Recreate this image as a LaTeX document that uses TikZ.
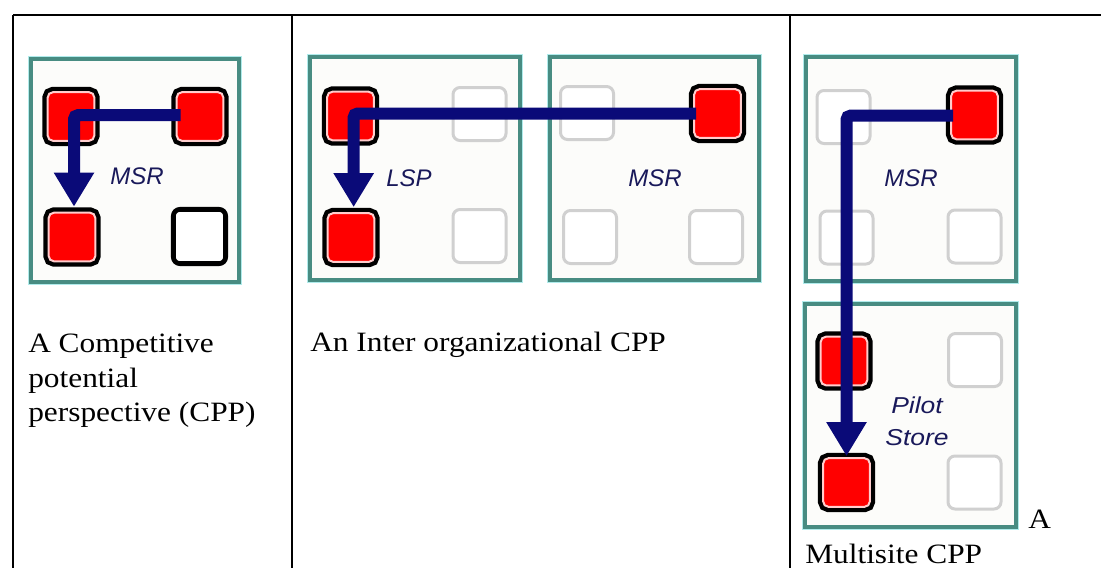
\documentclass[tikz,border=0pt]{standalone}
\usepackage{fontspec}
\usetikzlibrary{arrows.meta}
\newfontfamily\tnr[FakeStretch=1.12]{Liberation Serif}
\newfontfamily\arlab{Liberation Sans}
\newfontfamily\arpil[FakeStretch=1.15]{Liberation Sans}
\definecolor{tealc}{RGB}{72,140,130}
\definecolor{halo}{RGB}{175,235,235}
\definecolor{boxfill}{RGB}{252,252,250}
\definecolor{navyc}{RGB}{10,10,120}
\definecolor{labc}{RGB}{25,25,90}
\definecolor{pinkc}{RGB}{255,205,205}
\definecolor{greyc}{RGB}{208,208,208}
\tikzset{
  tealbox/.style={draw=tealc, line width=3pt, fill=boxfill, inner sep=0pt, outer sep=0pt,
    preaction={draw=halo, line width=4.5pt}},
  redsq/.style={rectangle, rounded corners=4pt, fill=red, draw=pinkc, line width=1.5pt,
    minimum width=35pt, minimum height=36.5pt, inner sep=0pt, outer sep=0pt,
    preaction={draw=black, line width=8pt}},
  greysq/.style={rectangle, rounded corners=5.25pt, fill=white, draw=greyc, line width=2.25pt,
    minimum width=39.75pt, minimum height=39.75pt, inner sep=0pt, outer sep=0pt},
  blacksq/.style={rectangle, rounded corners=5pt, fill=white, draw=black, line width=3.6pt,
    minimum width=39.2pt, minimum height=40.7pt, inner sep=0pt, outer sep=0pt},
  flow/.style={draw=navyc, line width=9pt, rounded corners=3pt,
    -{Triangle[width=28.5pt, length=25.5pt]}},
  lab/.style={text=labc, font=\arlab\itshape\fontsize{18pt}{20pt}\selectfont, inner sep=0pt, anchor=base},
  pil/.style={text=labc, font=\arpil\itshape\fontsize{17.25pt}{20pt}\selectfont, inner sep=0pt, anchor=base},
  captext/.style={font=\tnr\fontsize{21pt}{26.25pt}\selectfont, inner sep=0pt, anchor=base west},
  tablerule/.style={line width=2pt}
}
\begin{document}
\begin{tikzpicture}[x=0.75pt, y=-0.75pt]
\useasboundingbox (0,0) rectangle (1101,568);
\fill[white] (0,0) rectangle (1101,568);
% table rules
\draw[tablerule] (13,15) -- (1101,15);
\draw[tablerule] (13,15) -- (13,568);
\draw[tablerule] (292,15) -- (292,568);
\draw[tablerule] (790,15) -- (790,568);
% teal boxes
\node[tealbox, minimum width=156pt, minimum height=167.25pt] (b1) at (135,170.5) {};
\node[tealbox, minimum width=157.5pt, minimum height=167.25pt] (b2l) at (415,168.5) {};
\node[tealbox, minimum width=156.75pt, minimum height=167.25pt] (b2r) at (654.5,168.5) {};
\node[tealbox, minimum width=157.5pt, minimum height=168pt] (b3t) at (911,169) {};
\node[tealbox, minimum width=158.25pt, minimum height=167.25pt] (b3b) at (910.5,415.5) {};
% panel 1 squares
\node[redsq] (p1tl) at (71,116.5) {};
\node[redsq] (p1tr) at (200,116.5) {};
\node[redsq] (p1bl) at (72,237) {};
\node[blacksq] (p1br) at (199.5,236.5) {};
% panel 2 squares
\node[redsq] (p2tl) at (350.5,116) {};
\node[redsq] (p2bl) at (351,237.5) {};
\node[greysq] (p2tr) at (479.5,114) {};
\node[greysq] (p2br) at (479.5,236) {};
\node[greysq] (q2tl) at (587,113) {};
\node[redsq] (q2tr) at (717.5,113.5) {};
\node[greysq] (q2bl) at (590,237) {};
\node[greysq] (q2br) at (716,237) {};
% panel 3 squares
\node[greysq] (p3tl) at (843.5,117) {};
\node[redsq] (p3tr) at (974.5,115) {};
\node[greysq] (p3bl) at (846.5,237.5) {};
\node[greysq] (p3br) at (974.5,236.5) {};
\node[redsq] (s3tl) at (844,361) {};
\node[greysq] (s3tr) at (975,360) {};
\node[redsq] (s3bl) at (846.5,482.5) {};
\node[greysq] (s3br) at (974.5,482.5) {};
% arrows
\draw[flow] ([xshift=3pt,yshift=1pt]p1tr.west) -| ([xshift=1.5pt,yshift=4.5pt]p1bl.north);
\draw[flow] ([xshift=1.5pt]q2tr.west) -| ([xshift=2pt,yshift=4.5pt]p2bl.north);
\draw[flow] ([xshift=1.5pt,yshift=-0.5pt]p3tr.west) -| ([yshift=1.5pt]s3bl.north);
% labels
\node[lab] (l1) at (137,184) {MSR};
\node[lab] (l2) at (409,186) {LSP};
\node[lab] (l3) at (655,186) {MSR};
\node[lab] (l4) at (911,186) {MSR};
\node[pil] (l5) at (917,413) {Pilot};
\node[pil] (l6) at (917,445) {Store};
% captions
\node[captext] (c1a) at (28,352) {A Competitive};
\node[captext] (c1b) at (28,387) {potential};
\node[captext] (c1c) at (28,421) {perspective (CPP)};
\node[captext] (c2) at (310,351) {An Inter organizational CPP};
\node[captext] (c3a) at (1028,528) {A};
\node[captext] (c3b) at (805,563) {Multisite CPP};
\end{tikzpicture}
\end{document}
